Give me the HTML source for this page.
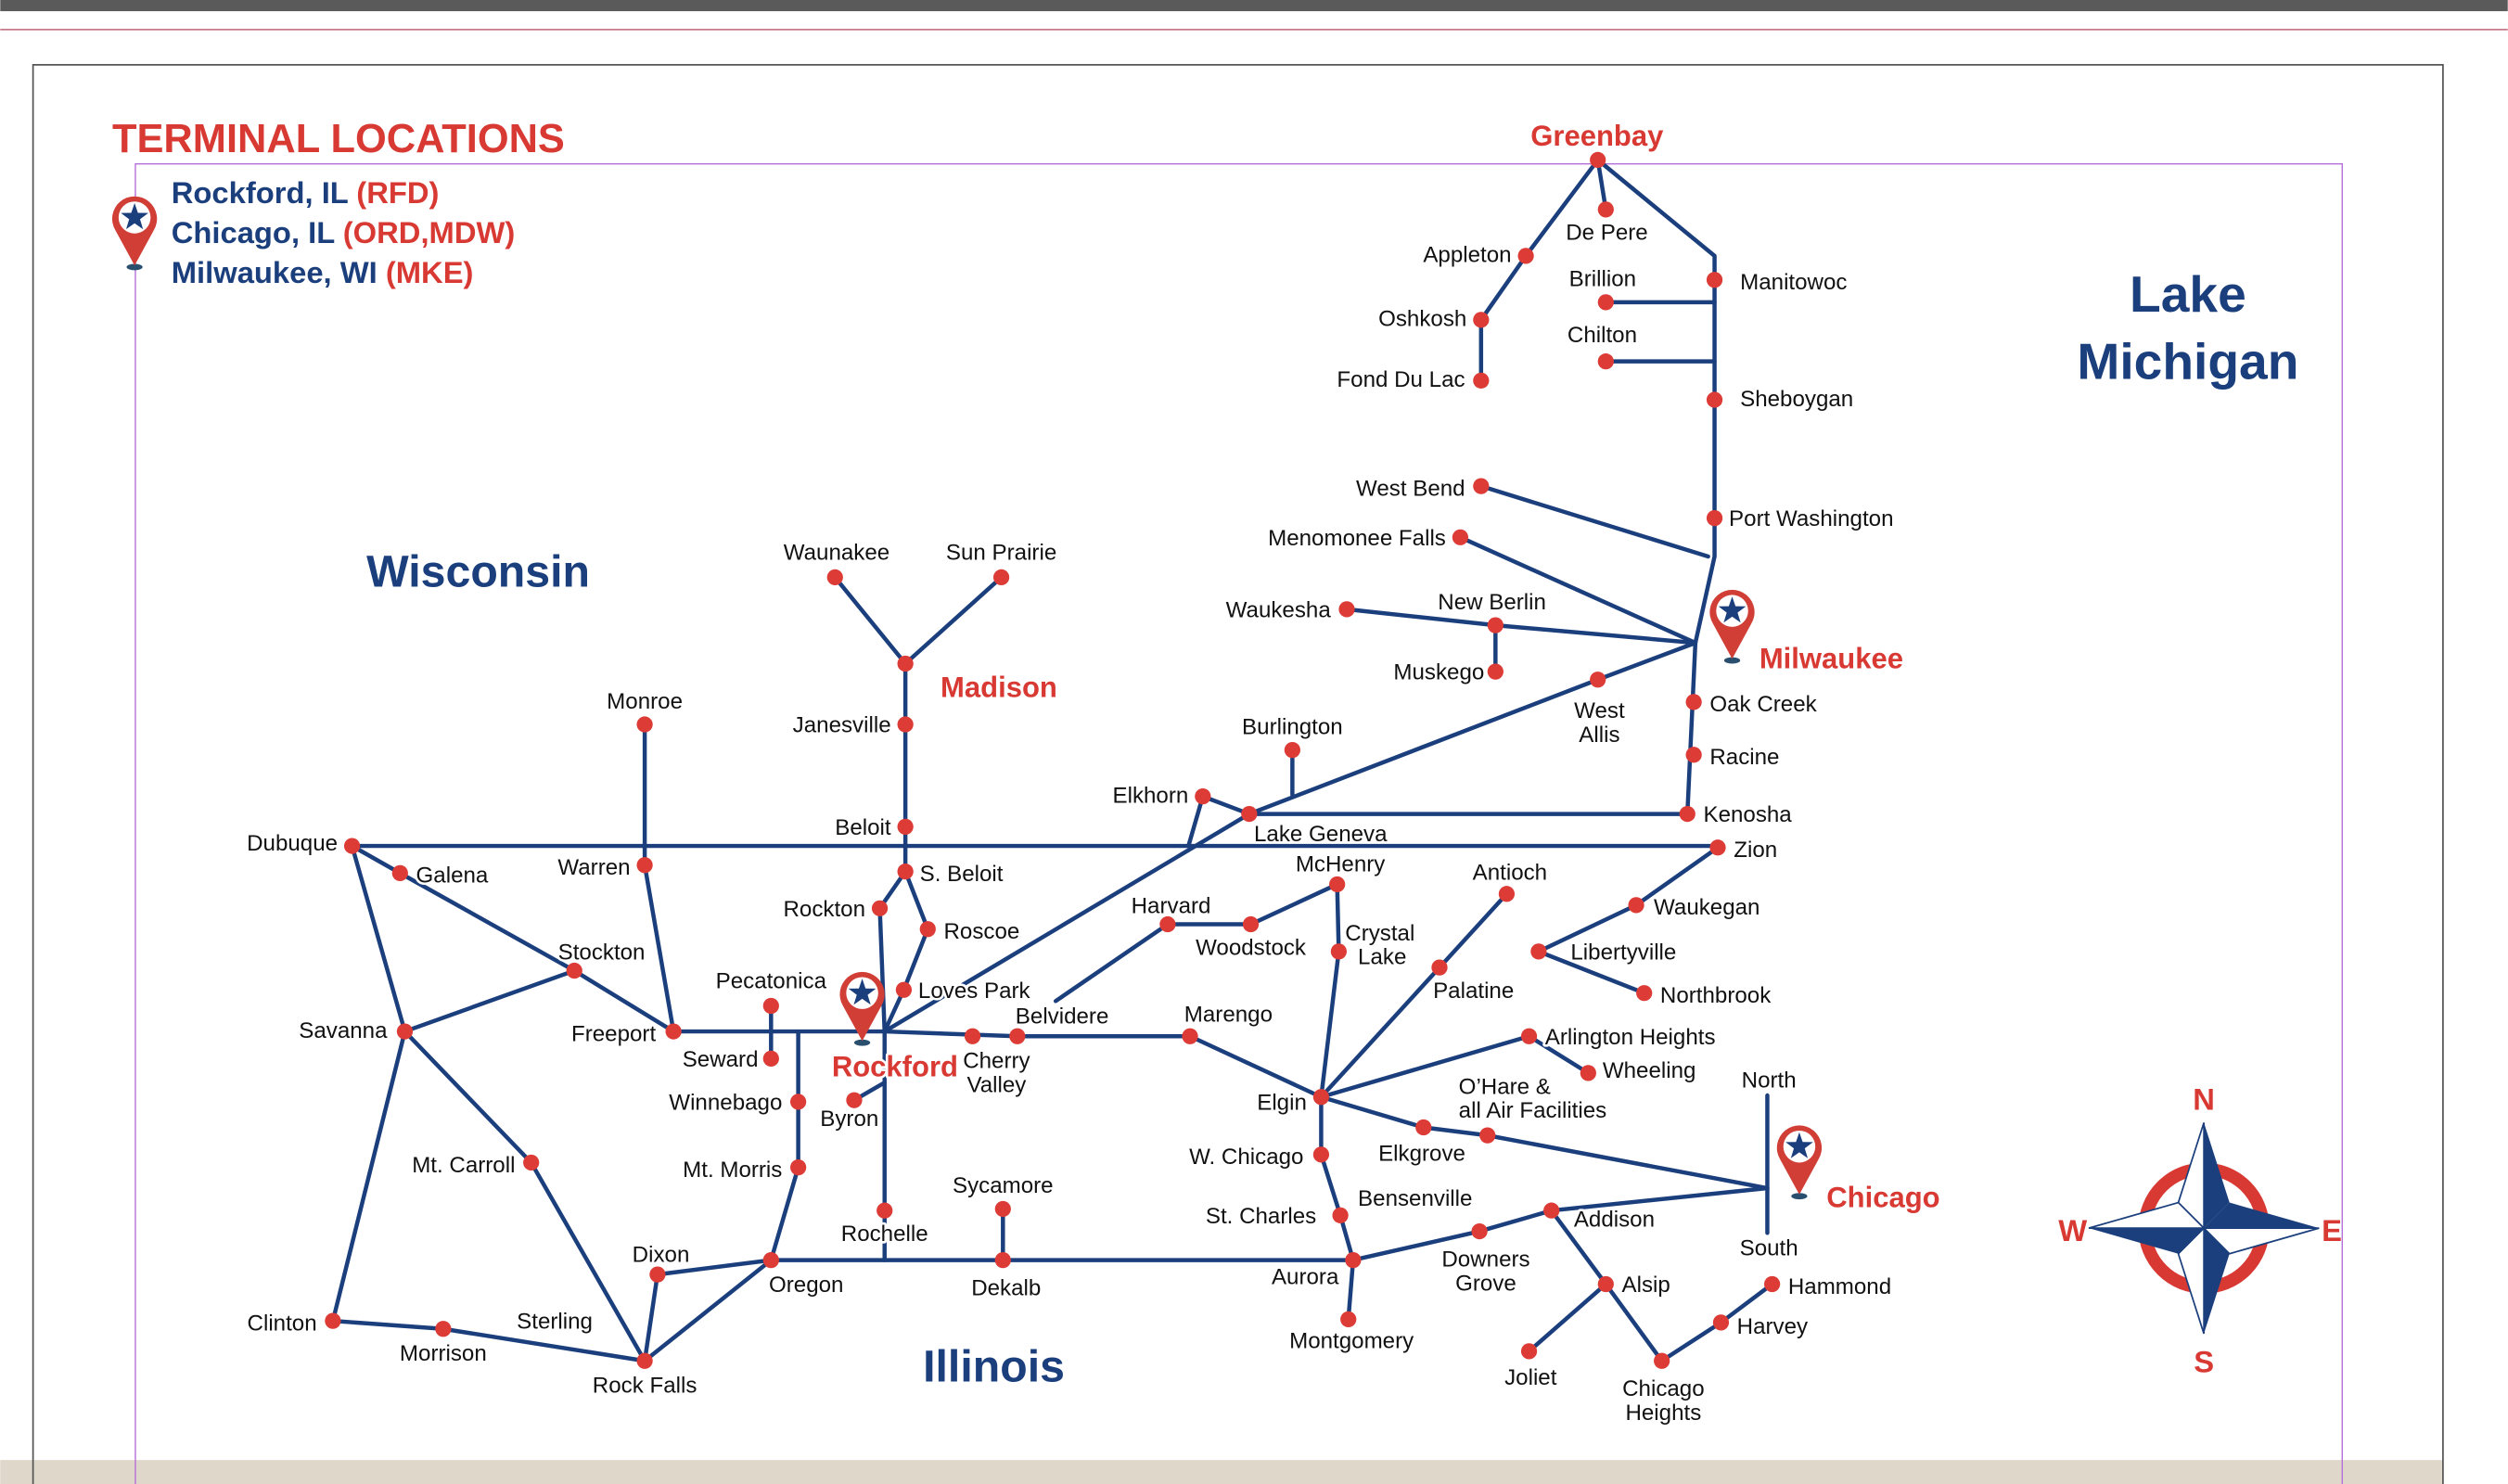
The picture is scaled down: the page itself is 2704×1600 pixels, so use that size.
<!DOCTYPE html>
<html><head><meta charset="utf-8"><style>
html,body{margin:0;padding:0;background:#fff;}
svg{display:block}
text{font-family:"Liberation Sans",sans-serif;}
.l{font-size:14px;fill:#111;}
.l text,.halo text{stroke:#fff;stroke-width:3;paint-order:stroke;stroke-linejoin:round}
.r{fill:#d83a33}
.b{fill:#1b3f7d}
</style></head><body>
<svg width="2704" height="1600" viewBox="0 0 1568 928" xmlns="http://www.w3.org/2000/svg">
<rect x="0" y="0" width="1568" height="928" fill="#fff"/>
<rect x="0" y="0" width="1568" height="7" fill="#5a5a5a"/>
<line x1="0" y1="18.5" x2="1568" y2="18.5" stroke="#c77a8a" stroke-width="1"/>
<rect x="0" y="913" width="1527" height="15" fill="#ded7ca"/>
<path d="M20.5 928 V40.5 H1527.5 V928" fill="none" stroke="#555" stroke-width="1"/>
<path d="M84.5 928 V102.5 H1464.5 V928" fill="none" stroke="#b36fd8" stroke-width="0.8"/>

<text x="70" y="95" font-size="25" font-weight="bold" class="r" textLength="283" lengthAdjust="spacingAndGlyphs">TERMINAL LOCATIONS</text>
<g font-size="19" font-weight="bold">
<text x="107" y="127" class="b">Rockford, IL <tspan class="r">(RFD)</tspan></text>
<text x="107" y="152" class="b">Chicago, IL <tspan class="r">(ORD,MDW)</tspan></text>
<text x="107" y="177" class="b">Milwaukee, WI <tspan class="r">(MKE)</tspan></text>
</g>

<g font-weight="bold" class="b">
<text x="229" y="367" font-size="28">Wisconsin</text>
<text x="577" y="864" font-size="28">Illinois</text>
<text x="1368" y="195" font-size="32" text-anchor="middle">Lake</text>
<text x="1368" y="237" font-size="32" text-anchor="middle">Michigan</text>
</g>

<g stroke="#1b3f7d" stroke-width="2.6" fill="none" stroke-linecap="round" stroke-linejoin="round">
<polyline points="926,238 926,200 954,160 999,100 1004,131"/>
<polyline points="999,100 1072,160 1072,348 1060,402 1055,509"/>
<line x1="1004" y1="189" x2="1072" y2="189"/>
<line x1="1004" y1="226" x2="1072" y2="226"/>
<line x1="926" y1="304" x2="1068" y2="348"/>
<line x1="913" y1="336" x2="1060" y2="402"/>
<polyline points="842,381 935,391 1060,402"/>
<line x1="935" y1="391" x2="935" y2="420"/>
<polyline points="1060,402 999,425 781,509 553,645"/>
<line x1="808" y1="469" x2="808" y2="497"/>
<polyline points="752,498 781,509 1055,509"/>
<line x1="752" y1="498" x2="743" y2="529"/>
<line x1="220" y1="529" x2="1074" y2="529"/>
<polyline points="1074,530 1023,566 962,595 1028,621"/>
<polyline points="660,626 730,578 782,578 836,553 837,595 826,686"/>
<polyline points="942,559 900,605 826,686"/>
<polyline points="826,686 956,648 993,671"/>
<polyline points="826,686 890,705 930,710 1105,743"/>
<line x1="1105" y1="685" x2="1105" y2="771"/>
<polyline points="744,648 826,686 826,722 838,760 846,788 843,825"/>
<polyline points="846,788 925,770 970,757 1105,743"/>
<polyline points="970,757 1004,803 1039,851 1076,827 1108,803"/>
<line x1="1004" y1="803" x2="956" y2="845"/>
<line x1="482" y1="788" x2="846" y2="788"/>
<line x1="627" y1="756" x2="627" y2="788"/>
<line x1="553" y1="645" x2="553" y2="788"/>
<line x1="534" y1="688" x2="553" y2="677"/>
<polyline points="421,645 553,645 636,648 744,648"/>
<polyline points="553,645 565,619 580,581 566,545"/>
<polyline points="553,645 550,568 566,545"/>
<polyline points="566,545 566,415 522,361"/>
<line x1="566" y1="415" x2="626" y2="361"/>
<line x1="482" y1="629" x2="482" y2="662"/>
<polyline points="499,645 499,730 482,788"/>
<polyline points="482,788 411,797 403,851 482,788"/>
<polyline points="403,851 277,831 208,826 253,645 220,529 250,546 359,607 421,645"/>
<polyline points="253,645 359,607"/>
<polyline points="253,645 332,727 403,851"/>
<polyline points="403,453 403,541 421,645"/>
</g>

<g fill="#dc3b36">
<circle cx="999" cy="100" r="5"/><circle cx="1004" cy="131" r="5"/><circle cx="954" cy="160" r="5"/>
<circle cx="926" cy="200" r="5"/><circle cx="926" cy="238" r="5"/><circle cx="1072" cy="175" r="5"/>
<circle cx="1004" cy="189" r="5"/><circle cx="1004" cy="226" r="5"/><circle cx="1072" cy="250" r="5"/>
<circle cx="1072" cy="324" r="5"/><circle cx="926" cy="304" r="5"/><circle cx="913" cy="336" r="5"/>
<circle cx="842" cy="381" r="5"/><circle cx="935" cy="391" r="5"/><circle cx="935" cy="420" r="5"/>
<circle cx="999" cy="425" r="5"/><circle cx="1059" cy="439" r="5"/><circle cx="1059" cy="472" r="5"/>
<circle cx="1055" cy="509" r="5"/><circle cx="1074" cy="530" r="5"/><circle cx="1023" cy="566" r="5"/>
<circle cx="962" cy="595" r="5"/><circle cx="1028" cy="621" r="5"/><circle cx="808" cy="469" r="5"/>
<circle cx="752" cy="498" r="5"/><circle cx="781" cy="509" r="5"/><circle cx="836" cy="553" r="5"/>
<circle cx="942" cy="559" r="5"/><circle cx="730" cy="578" r="5"/><circle cx="782" cy="578" r="5"/>
<circle cx="837" cy="595" r="5"/><circle cx="900" cy="605" r="5"/><circle cx="956" cy="648" r="5"/>
<circle cx="993" cy="671" r="5"/><circle cx="826" cy="686" r="5"/><circle cx="890" cy="705" r="5"/>
<circle cx="930" cy="710" r="5"/><circle cx="826" cy="722" r="5"/><circle cx="838" cy="760" r="5"/>
<circle cx="846" cy="788" r="5"/><circle cx="843" cy="825" r="5"/><circle cx="925" cy="770" r="5"/>
<circle cx="970" cy="757" r="5"/><circle cx="1004" cy="803" r="5"/><circle cx="956" cy="845" r="5"/>
<circle cx="1039" cy="851" r="5"/><circle cx="1076" cy="827" r="5"/><circle cx="1108" cy="803" r="5"/>
<circle cx="744" cy="648" r="5"/><circle cx="636" cy="648" r="5"/><circle cx="608" cy="648" r="5"/>
<circle cx="565" cy="619" r="5"/><circle cx="580" cy="581" r="5"/><circle cx="566" cy="545" r="5"/>
<circle cx="550" cy="568" r="5"/><circle cx="566" cy="517" r="5"/><circle cx="566" cy="453" r="5"/>
<circle cx="566" cy="415" r="5"/><circle cx="522" cy="361" r="5"/><circle cx="626" cy="361" r="5"/>
<circle cx="534" cy="688" r="5"/><circle cx="553" cy="757" r="5"/><circle cx="482" cy="629" r="5"/>
<circle cx="482" cy="662" r="5"/><circle cx="499" cy="689" r="5"/><circle cx="499" cy="730" r="5"/>
<circle cx="482" cy="788" r="5"/><circle cx="411" cy="797" r="5"/><circle cx="403" cy="851" r="5"/>
<circle cx="627" cy="788" r="5"/><circle cx="627" cy="756" r="5"/><circle cx="421" cy="645" r="5"/>
<circle cx="359" cy="607" r="5"/><circle cx="403" cy="541" r="5"/><circle cx="403" cy="453" r="5"/>
<circle cx="220" cy="529" r="5"/><circle cx="250" cy="546" r="5"/><circle cx="253" cy="645" r="5"/>
<circle cx="332" cy="727" r="5"/><circle cx="208" cy="826" r="5"/><circle cx="277" cy="831" r="5"/>
</g>

<defs>
<g id="pin">
<ellipse cx="0" cy="31" rx="5" ry="2" fill="#2a4f6e"/>
<path d="M0 30 L-12 8 A14 14 0 1 1 12 8 Z" fill="#d13e36"/>
<circle cx="0" cy="0" r="10" fill="#fff"/>
<polygon points="0,-9 2.1,-2.9 8.6,-2.8 3.4,1.1 5.3,7.3 0,3.6 -5.3,7.3 -3.4,1.1 -8.6,-2.8 -2.1,-2.9" fill="#1b3f7d"/>
</g>
</defs>
<use href="#pin" x="84" y="136"/>
<use href="#pin" x="539" y="621"/>
<use href="#pin" x="1083" y="382"/>
<use href="#pin" x="1125" y="717"/>

<g font-weight="bold" font-size="18" class="r halo">
<text x="957" y="91">Greenbay</text>
<text x="588" y="436">Madison</text>
<text x="1100" y="418">Milwaukee</text>
<text x="520" y="673">Rockford</text>
<text x="1142" y="755">Chicago</text>
</g>

<g class="l">
<text x="945" y="164" text-anchor="end">Appleton</text>
<text x="979" y="150">De Pere</text>
<text x="917" y="204" text-anchor="end">Oshkosh</text>
<text x="916" y="242" text-anchor="end">Fond Du Lac</text>
<text x="1088" y="181">Manitowoc</text>
<text x="981" y="179">Brillion</text>
<text x="980" y="214">Chilton</text>
<text x="1088" y="254">Sheboygan</text>
<text x="1081" y="329">Port Washington</text>
<text x="916" y="310" text-anchor="end">West Bend</text>
<text x="904" y="341" text-anchor="end">Menomonee Falls</text>
<text x="832" y="386" text-anchor="end">Waukesha</text>
<text x="899" y="381">New Berlin</text>
<text x="928" y="425" text-anchor="end">Muskego</text>
<text x="1000" y="449" text-anchor="middle">West</text>
<text x="1000" y="464" text-anchor="middle">Allis</text>
<text x="1069" y="445">Oak Creek</text>
<text x="1069" y="478">Racine</text>
<text x="1065" y="514">Kenosha</text>
<text x="1084" y="536">Zion</text>
<text x="1034" y="572">Waukegan</text>
<text x="982" y="600">Libertyville</text>
<text x="1038" y="627">Northbrook</text>
<text x="808" y="459" text-anchor="middle">Burlington</text>
<text x="743" y="502" text-anchor="end">Elkhorn</text>
<text x="784" y="526">Lake Geneva</text>
<text x="838" y="545" text-anchor="middle">McHenry</text>
<text x="944" y="550" text-anchor="middle">Antioch</text>
<text x="757" y="571" text-anchor="end">Harvard</text>
<text x="782" y="597" text-anchor="middle">Woodstock</text>
<text x="841" y="588">Crystal</text>
<text x="849" y="603">Lake</text>
<text x="896" y="624">Palatine</text>
<text x="966" y="653">Arlington Heights</text>
<text x="1002" y="674">Wheeling</text>
<text x="912" y="684">O’Hare &amp;</text>
<text x="912" y="699">all Air Facilities</text>
<text x="1106" y="680" text-anchor="middle">North</text>
<text x="1106" y="785" text-anchor="middle">South</text>
<text x="817" y="694" text-anchor="end">Elgin</text>
<text x="889" y="726" text-anchor="middle">Elkgrove</text>
<text x="815" y="728" text-anchor="end">W. Chicago</text>
<text x="823" y="765" text-anchor="end">St. Charles</text>
<text x="849" y="754">Bensenville</text>
<text x="837" y="803" text-anchor="end">Aurora</text>
<text x="845" y="843" text-anchor="middle">Montgomery</text>
<text x="929" y="792" text-anchor="middle">Downers</text>
<text x="929" y="807" text-anchor="middle">Grove</text>
<text x="984" y="767">Addison</text>
<text x="1014" y="808">Alsip</text>
<text x="957" y="866" text-anchor="middle">Joliet</text>
<text x="1040" y="873" text-anchor="middle">Chicago</text>
<text x="1040" y="888" text-anchor="middle">Heights</text>
<text x="1086" y="834">Harvey</text>
<text x="1118" y="809">Hammond</text>
<text x="768" y="639" text-anchor="middle">Marengo</text>
<text x="664" y="640" text-anchor="middle">Belvidere</text>
<text x="623" y="668" text-anchor="middle">Cherry</text>
<text x="623" y="683" text-anchor="middle">Valley</text>
<text x="574" y="624">Loves Park</text>
<text x="590" y="587">Roscoe</text>
<text x="575" y="551">S. Beloit</text>
<text x="541" y="573" text-anchor="end">Rockton</text>
<text x="557" y="522" text-anchor="end">Beloit</text>
<text x="557" y="458" text-anchor="end">Janesville</text>
<text x="523" y="350" text-anchor="middle">Waunakee</text>
<text x="626" y="350" text-anchor="middle">Sun Prairie</text>
<text x="531" y="704" text-anchor="middle">Byron</text>
<text x="553" y="776" text-anchor="middle">Rochelle</text>
<text x="482" y="618" text-anchor="middle">Pecatonica</text>
<text x="474" y="667" text-anchor="end">Seward</text>
<text x="489" y="694" text-anchor="end">Winnebago</text>
<text x="489" y="736" text-anchor="end">Mt. Morris</text>
<text x="504" y="808" text-anchor="middle">Oregon</text>
<text x="431" y="789" text-anchor="end">Dixon</text>
<text x="403" y="871" text-anchor="middle">Rock Falls</text>
<text x="627" y="746" text-anchor="middle">Sycamore</text>
<text x="629" y="810" text-anchor="middle">Dekalb</text>
<text x="410" y="651" text-anchor="end">Freeport</text>
<text x="376" y="600" text-anchor="middle">Stockton</text>
<text x="394" y="547" text-anchor="end">Warren</text>
<text x="403" y="443" text-anchor="middle">Monroe</text>
<text x="211" y="532" text-anchor="end">Dubuque</text>
<text x="260" y="552">Galena</text>
<text x="242" y="649" text-anchor="end">Savanna</text>
<text x="322" y="733" text-anchor="end">Mt. Carroll</text>
<text x="198" y="832" text-anchor="end">Clinton</text>
<text x="277" y="851" text-anchor="middle">Morrison</text>
<text x="323" y="831">Sterling</text>
</g>

<!-- compass -->
<g transform="translate(1378,768)">
<ellipse cx="0" cy="0" rx="37" ry="37" fill="none" stroke="#d83a33" stroke-width="8"/>
<polygon points="0,-66 -16,-16 0,0" fill="#fff" stroke="#1b3f7d" stroke-width="1"/>
<polygon points="0,-66 16,-16 0,0" fill="#1b3f7d"/>
<polygon points="72,0 16,-16 0,0" fill="#1b3f7d"/>
<polygon points="72,0 16,16 0,0" fill="#fff" stroke="#1b3f7d" stroke-width="1"/>
<polygon points="0,66 16,16 0,0" fill="#1b3f7d"/>
<polygon points="0,66 -16,16 0,0" fill="#fff" stroke="#1b3f7d" stroke-width="1"/>
<polygon points="-72,0 -16,16 0,0" fill="#1b3f7d"/>
<polygon points="-72,0 -16,-16 0,0" fill="#fff" stroke="#1b3f7d" stroke-width="1"/>
</g>
<g font-weight="bold" font-size="19" class="r" text-anchor="middle">
<text x="1378" y="694">N</text>
<text x="1378" y="858">S</text>
<text x="1296" y="776">W</text>
<text x="1458" y="776">E</text>
</g>
</svg>
</body></html>
